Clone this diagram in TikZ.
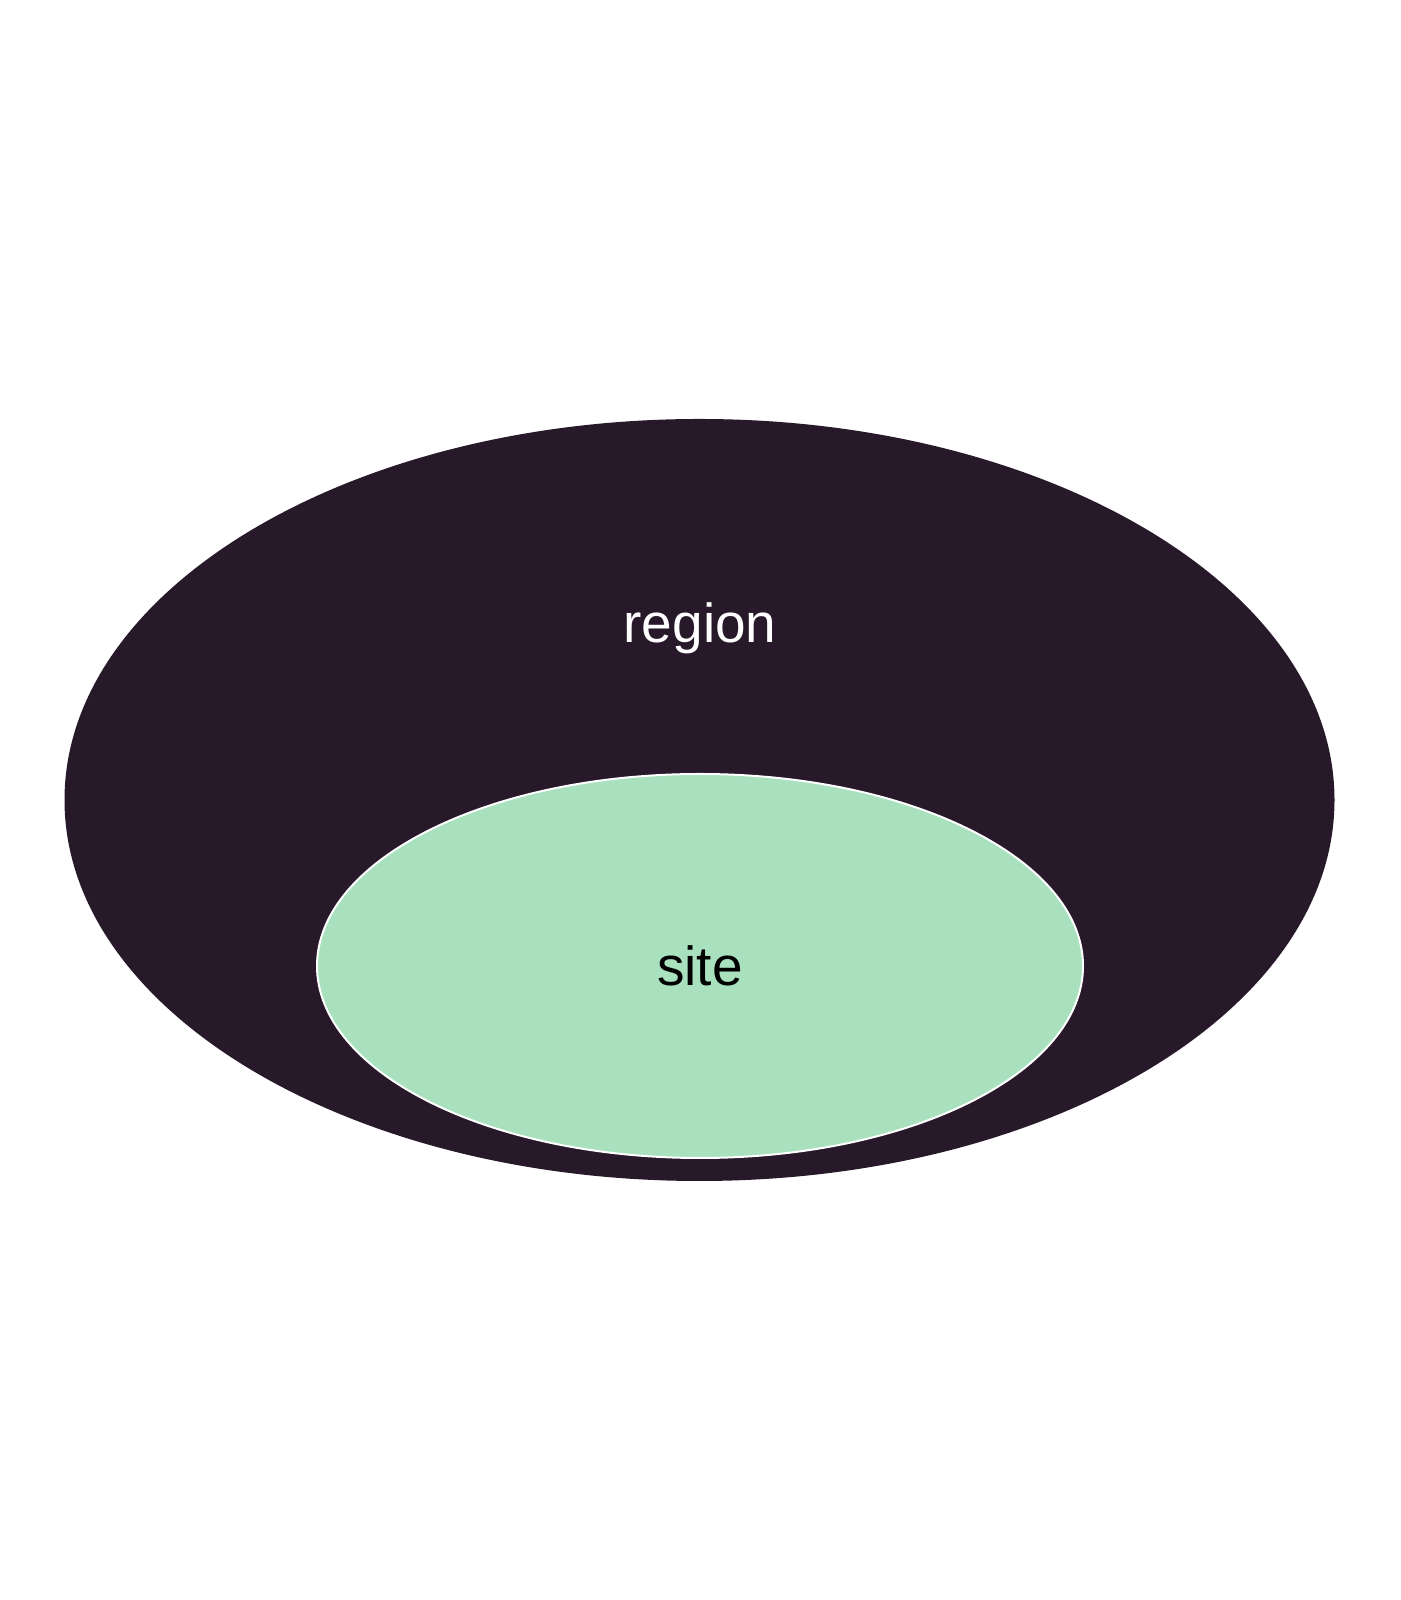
\documentclass[tikz,border=0pt]{standalone}
\usepackage{fontspec}
\setmainfont{Liberation Sans}
\usetikzlibrary{shapes.geometric}
\definecolor{regionc}{HTML}{27182A}
\definecolor{sitec}{HTML}{A9E1BF}
\begin{document}
\begin{tikzpicture}[x=1pt,y=1pt,
  lbl/.style={font=\fontsize{55}{60}\selectfont, anchor=base, inner sep=0pt}]
\useasboundingbox[fill=white] (0,0) rectangle (1400,1600);
\node[ellipse, fill=regionc, minimum width=1270, minimum height=762, inner sep=0pt] (region) at (699.5,800) {};
\node[ellipse, fill=sitec, draw=white, line width=2pt, minimum width=766, minimum height=384, inner sep=0pt] (site) at (700,634) {};
\node[lbl, text=white] (regionlbl) at (700,957) {region};
\node[lbl, text=black] (sitelbl) at (700,614) {site};
\end{tikzpicture}
\end{document}
